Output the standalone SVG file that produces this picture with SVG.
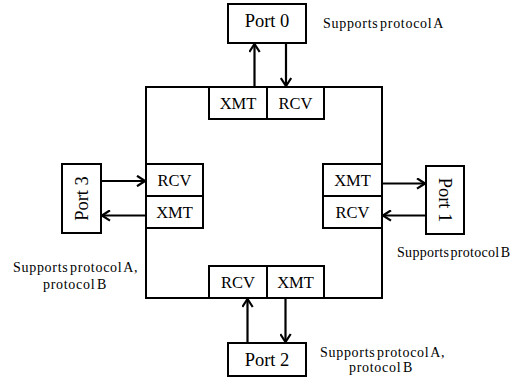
<svg xmlns="http://www.w3.org/2000/svg" width="517" height="385" viewBox="0 0 517 385">
  <style>
    .box { fill: #fff; stroke: #000; stroke-width: 2; }
    .lbl { font-family: "Liberation Serif", "Times New Roman", serif; font-size: 16.5px; fill: #000; text-anchor: middle; }
    .port { font-family: "Liberation Serif", "Times New Roman", serif; font-size: 18.5px; fill: #000; text-anchor: middle; }
    .note { font-family: "Liberation Serif", "Times New Roman", serif; font-size: 14px; fill: #000; letter-spacing: 0.7px; word-spacing: -2.5px; }
    .note.tight { letter-spacing: 0.3px; }
    .wire { stroke: #000; stroke-width: 2.2; fill: none; marker-end: url(#chev); }
  </style>
  <defs>
    <marker id="chev" viewBox="0 0 10 12" refX="9" refY="6" markerWidth="10" markerHeight="12" orient="auto" markerUnits="userSpaceOnUse">
      <path d="M1,0.8 L9,6 L1,11.2" fill="none" stroke="#000" stroke-width="2.2"/>
    </marker>
  </defs>
  <rect width="517" height="385" fill="#fff"/>

  <!-- switch body -->
  <g id="switch">
    <rect class="box" x="146" y="87" width="236" height="211"/>
  </g>

  <!-- interfaces -->
  <g id="top-xmt"><rect class="box" x="209" y="87" width="58" height="32"/><text class="lbl" x="238" y="109">XMT</text></g>
  <g id="top-rcv"><rect class="box" x="267" y="87" width="57" height="32"/><text class="lbl" x="295.5" y="109">RCV</text></g>
  <g id="left-rcv"><rect class="box" x="146" y="164" width="57" height="32"/><text class="lbl" x="174.5" y="186">RCV</text></g>
  <g id="left-xmt"><rect class="box" x="146" y="196" width="57" height="32"/><text class="lbl" x="174.5" y="218">XMT</text></g>
  <g id="right-xmt"><rect class="box" x="323" y="164" width="59" height="32"/><text class="lbl" x="352.5" y="186">XMT</text></g>
  <g id="right-rcv"><rect class="box" x="323" y="196" width="59" height="32"/><text class="lbl" x="352.5" y="218">RCV</text></g>
  <g id="bottom-rcv"><rect class="box" x="209" y="266" width="58" height="32"/><text class="lbl" x="238" y="288">RCV</text></g>
  <g id="bottom-xmt"><rect class="box" x="267" y="266" width="57" height="32"/><text class="lbl" x="295.5" y="288">XMT</text></g>

  <!-- ports -->
  <g id="port0"><rect class="box" x="228" y="4" width="78" height="39"/><text class="port" x="267" y="27">Port 0</text></g>
  <g id="port1"><rect class="box" x="426" y="166" width="38" height="68"/><text class="port" transform="translate(445 200) rotate(90)" x="0" y="6.5">Port 1</text></g>
  <g id="port2"><rect class="box" x="228" y="343" width="78" height="33"/><text class="port" x="267" y="365.5">Port 2</text></g>
  <g id="port3"><rect class="box" x="62" y="164" width="39" height="69"/><text class="port" transform="translate(81.5 198.5) rotate(-90)" x="0" y="6.5">Port 3</text></g>

  <!-- links -->
  <g id="connectors">
    <line class="wire" x1="254.5" y1="87" x2="254.5" y2="44"/>
    <line class="wire" x1="286" y1="43" x2="286" y2="86"/>
    <line class="wire" x1="101" y1="181" x2="145" y2="181"/>
    <line class="wire" x1="146" y1="215.5" x2="102" y2="215.5"/>
    <line class="wire" x1="382" y1="183.5" x2="425" y2="183.5"/>
    <line class="wire" x1="426" y1="215.5" x2="383" y2="215.5"/>
    <line class="wire" x1="247.5" y1="343" x2="247.5" y2="299"/>
    <line class="wire" x1="285.5" y1="298" x2="285.5" y2="342"/>
  </g>

  <!-- protocol notes -->
  <g id="notes">
    <text class="note" x="323" y="28">Supports protocol A</text>
    <text class="note tight" x="397" y="257">Supports protocol B</text>
    <text class="note" x="13" y="272">Supports protocol A,</text>
    <text class="note" x="43" y="289">protocol B</text>
    <text class="note" x="320" y="357">Supports protocol A,</text>
    <text class="note" x="349" y="372">protocol B</text>
  </g>
</svg>
